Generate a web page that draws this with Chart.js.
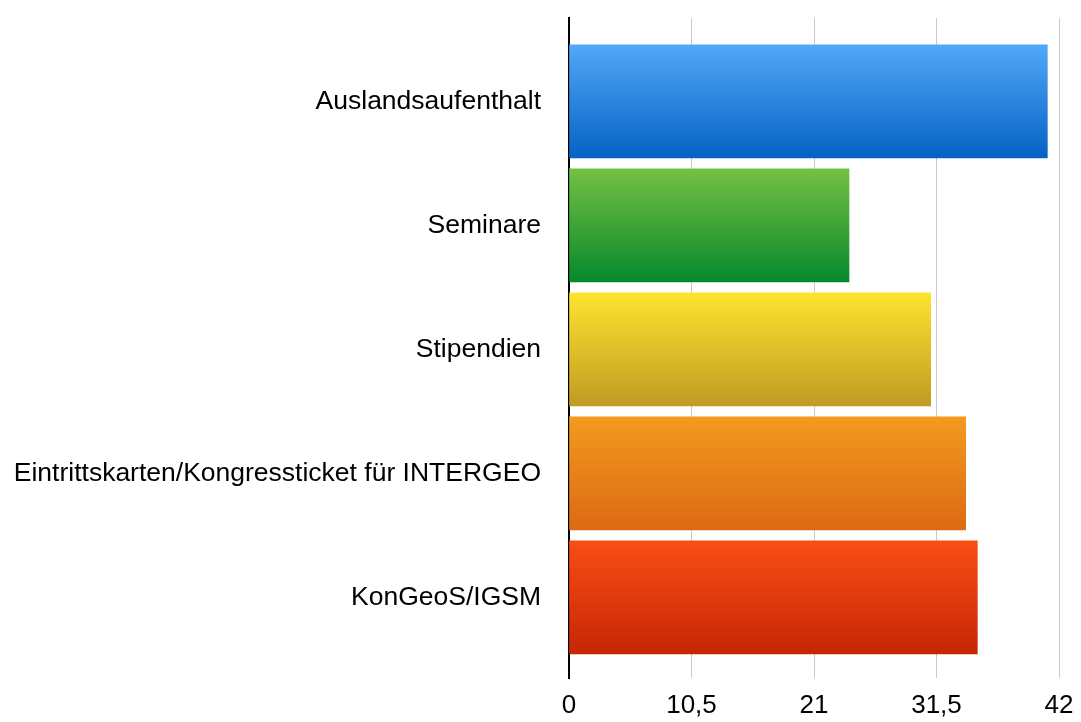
<!DOCTYPE html>
<html>
<head>
<meta charset="utf-8">
<script src="https://cdn.jsdelivr.net/npm/chart.js@4/dist/chart.umd.min.js"></script>
<style>
  html, body { margin: 0; padding: 0; background: #fff; }
  #wrap { width: 1081px; height: 722px; }
</style>
</head>
<body>
<div id="wrap"><canvas id="myChart" width="1081" height="722"></canvas></div>
<script>
// DATOS
const kategorien = ['Auslandsaufenthalt', 'Seminare', 'Stipendien', 'Eintrittskarten/Kongressticket für INTERGEO', 'KonGeoS/IGSM']
const werte = [41, 24, 31, 34, 35]
const xTicks = [0, 10.5, 21, 31.5, 42]
const farbenOben = ['#52a8f8', '#74c043', '#fce42f', '#f39a1f', '#fa4d16']
const farbenUnten = ['#0562c4', '#06892b', '#c19a23', '#dc6a14', '#c62604']

const fontFam = '"Liberation Sans", Arial, Helvetica, sans-serif'

// gradient por barra
const gradientPlugin = {
    id: 'barGradient',
    beforeDatasetsDraw: (chart) => {
        const ctx = chart.ctx
        const meta = chart.getDatasetMeta(0)
        meta.data.forEach((bar, i) => {
            const top = bar.y - bar.height / 2
            const bottom = bar.y + bar.height / 2
            const g = ctx.createLinearGradient(0, top, 0, bottom)
            g.addColorStop(0, farbenOben[i])
            g.addColorStop(1, farbenUnten[i])
            bar.options.backgroundColor = g
        })
    }
}

new Chart(document.getElementById('myChart'), {
    type: 'bar',
    data: {
        datasets: [{
            data: werte.map((v, i) => ({ x: v, y: i })),
            backgroundColor: farbenUnten,
            barThickness: 113,
            borderSkipped: false
        }]
    },
    options: {
        indexAxis: 'y',
        responsive: false,
        animation: false,
        layout: { padding: { top: 18, right: 22, left: 0, bottom: 0 } },
        plugins: {
            legend: { display: false },
            tooltip: { enabled: false }
        },
        scales: {
            x: {
                type: 'linear',
                min: 0,
                max: 42,
                afterBuildTicks: (s) => { s.ticks = xTicks.map(v => ({ value: v })) },
                afterFit: (s) => { s.height = 44; s.paddingLeft = 0; s.paddingRight = 0 },
                ticks: {
                    color: '#000',
                    padding: 12,
                    maxRotation: 0,
                    font: { family: fontFam, size: 26 },
                    callback: (v) => String(v).replace('.', ',')
                },
                grid: { color: '#c8c8c8', lineWidth: 1, drawTicks: false },
                border: { display: false }
            },
            y: {
                type: 'linear',
                reverse: true,
                offset: false,
                min: -0.673,
                max: 4.65,
                afterBuildTicks: (s) => { s.ticks = kategorien.map((_, i) => ({ value: i })) },
                afterFit: (s) => { s.width = 569; s.paddingTop = 0; s.paddingBottom = 0 },
                ticks: {
                    color: '#000',
                    padding: 28,
                    font: { family: fontFam, size: 26.5 },
                    callback: (v) => kategorien[v]
                },
                grid: { display: false, drawTicks: false, offset: false },
                border: { display: true, color: '#000', width: 2 }
            }
        }
    },
    plugins: [gradientPlugin]
})
</script>
</body>
</html>
